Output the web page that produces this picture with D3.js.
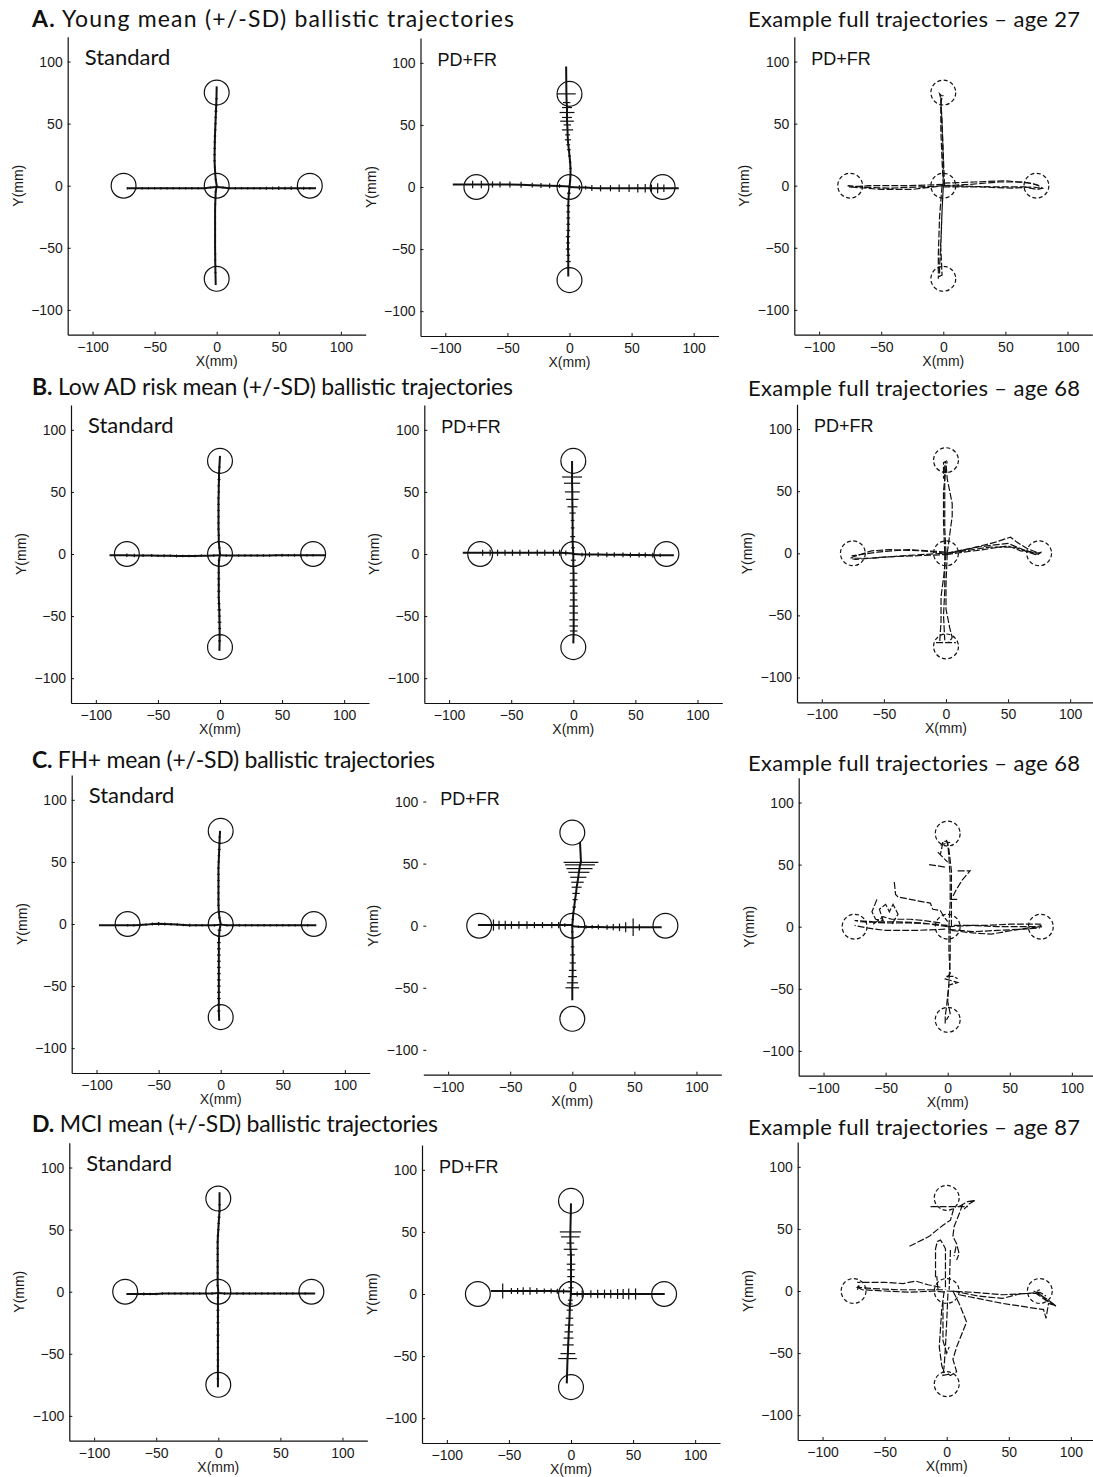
<!DOCTYPE html>
<html>
<head>
<meta charset="utf-8">
<script src="https://cdn.jsdelivr.net/npm/d3@7"></script>
<style>
  body { margin: 0; background: #fff; }
  svg { display: block; }
</style>
</head>
<body>
<div id="fig"></div>
<script>
// ---------- data (all in mm) ----------
var targets = [[0, 0], [75, 0], [-75, 0], [0, 75], [0, -75]];
var targetRadius = 10;
var tickValues = [-100, -50, 0, 50, 100];

var rowTitles = [
  ["A.", " Young mean (+/-SD) ballistic trajectories"],
  ["B.", " Low AD risk mean (+/-SD) ballistic trajectories"],
  ["C.", " FH+ mean (+/-SD) ballistic trajectories"],
  ["D.", " MCI mean (+/-SD) ballistic trajectories"]
];
var exampleTitles = [
  "Example full trajectories \u2013 age 27",
  "Example full trajectories \u2013 age 68",
  "Example full trajectories \u2013 age 68",
  "Example full trajectories \u2013 age 87"
];

// mean trajectories: [x, y, sd]  (sd across the direction of movement)
var youngStdUp = [[0,0,0.5],[-0.8,5,0.8],[-1.2,10,0.8],[-1.5,15,0.8],[-1.7,20,1],[-1.7,25,1],[-1.6,30,1],[-1.5,35,1],[-1.4,40,1],[-1.2,45,1],[-1,50,1],[-0.8,55,1],[-0.6,60,1.2],[-0.4,65,1.2],[-0.2,70,1],[0,80,0]];
var youngStdDown = [[0,0,0.5],[-0.8,-5,0.8],[-1,-10,0.8],[-1.2,-15,0.8],[-1.3,-20,0.8],[-1.3,-25,0.8],[-1.3,-30,0.8],[-1.3,-35,0.8],[-1.3,-40,0.8],[-1.3,-45,0.8],[-1.3,-50,0.8],[-1.2,-55,0.8],[-1.2,-60,0.8],[-1.1,-65,0.8],[-1,-70,0.8],[-0.8,-80,0]];
var youngStdLeft = [[0,-1,0.5],[-5,-1.5,0.8],[-10,-2,1],[-15,-2,1],[-20,-2,1],[-25,-2,1],[-30,-2,1],[-35,-2,1],[-40,-2,1],[-45,-2,1],[-50,-2,1],[-55,-2,1],[-60,-2,1],[-65,-2,1],[-72,-2,1]];
var youngStdRight = [[0,-1,0.5],[5,-1.5,0.8],[10,-2,1],[15,-2,1],[20,-2,1],[25,-2,1],[30,-2,1],[35,-2,1],[40,-2,1.2],[45,-2,1.2],[50,-2,1.5],[55,-2,1.2],[60,-2,1.5],[65,-2,1.5],[70,-2,1.2],[75,-2,1],[80,-2,0]];

var youngPdUp = [[0,0,0.8],[0.5,5,0.8],[0.8,10,0.8],[0.8,15,1],[0.5,20,1],[0,25,1.2],[-0.5,30,1.5],[-1,34,1.5],[-1.3,38,2.5],[-1.5,42,2],[-1.6,46,4.5],[-1.8,50,3],[-2,53,5.5],[-2,56,4],[-2,60,6],[-2,64,4],[-2.3,68,3],[-2.5,75,7.5],[-2.7,97,0]];
var youngPdDown = [[0,0,1],[-0.5,-5,1.5],[-0.8,-10,1.5],[-1,-15,1.5],[-1,-20,1.5],[-1,-25,1.5],[-1,-30,1.5],[-1,-35,1.5],[-1.2,-40,1.8],[-1.2,-45,1.5],[-1.2,-50,1.8],[-1,-55,1.5],[-1,-60,2],[-1,-65,1.5],[-1,-72,0]];
var youngPdLeft = [[0,0.5,1],[-8,0.8,1.5],[-16,1,2],[-23,1.2,2],[-30,1.5,2],[-39,1.8,2.5],[-48,2,2.5],[-56,2,2.5],[-62,2,2.5],[-71,2,3],[-78,2,3],[-94,2,0]];
var youngPdRight = [[0,0,1],[8,-0.5,2],[13,-0.5,1.5],[18,-0.8,2.5],[25,-1,2.5],[33,-1,2.5],[40,-1,3],[48,-1,3],[55,-1,3.5],[61,-1,3.5],[66,-1,3],[71,-1,4],[76,-1,3],[88,-1,0]];

var lowStdUp = [[0,0,0.5],[-0.5,5,1],[-1,10,1],[-1,15,1],[-1.2,20,1],[-1.2,25,1],[-1.2,30,1],[-1.2,35,1],[-1.2,40,1],[-1.2,45,1],[-1,50,1],[-1,55,1],[-0.8,60,1.2],[-0.8,65,1.2],[-0.5,70,1],[0,79,0]];
var lowStdDown = [[0,0,0.5],[-0.8,-5,1],[-1,-10,1],[-1,-15,1],[-1,-20,1.2],[-1,-25,1],[-1,-30,1.2],[-1,-35,1],[-0.8,-40,1.2],[-0.6,-45,1.5],[-0.5,-50,1.2],[-0.4,-55,1.5],[-0.3,-60,1.2],[-0.3,-65,1.5],[-0.3,-70,1.2],[-0.5,-78,0]];
var lowStdLeft = [[0,-1,0.5],[-5,-1.3,1],[-10,-1.5,1],[-15,-1.5,1],[-20,-1.6,1],[-25,-1.6,1],[-30,-1.6,1],[-35,-1.6,1.2],[-40,-1.5,1],[-45,-1.5,1.2],[-50,-1.4,1],[-55,-1.3,1.2],[-62,-1.2,1.2],[-69,-1.2,1.5],[-75,-1,1.5],[-89,-1,0]];
var lowStdRight = [[0,-1,0.5],[5,-1.2,1],[10,-1.3,1],[15,-1.3,1],[20,-1.3,1],[25,-1.3,1],[30,-1.2,1],[35,-1.2,1],[40,-1.2,1],[45,-1.1,1],[50,-1,1.2],[55,-1,1],[60,-1,1.2],[65,-1,1.2],[70,-1,1],[75,-1,1],[85,-1,0]];

var lowPdUp = [[0,0,1],[-0.3,5,1.5],[-0.5,10,1.5],[-0.5,14,2],[-0.5,21,1.5],[-0.6,27,1.5],[-0.6,33,2.5],[-0.7,38,4],[-0.8,44,5],[-0.8,50,6],[-1,57,6.5],[-1,62,8],[-1,75,0]];
var lowPdDown = [[0,0,1],[0,-5,2],[0,-10,2.5],[0.2,-15.5,3],[0.2,-21,3],[0.2,-26,3],[0.3,-31.5,3],[0.3,-37,3],[0.3,-42,3.5],[0.3,-47.5,3.5],[0.3,-53,3.5],[0.3,-58,3.5],[0.3,-62,3],[0,-72,0]];
var lowPdLeft = [[0,0.5,1],[-6,0.8,2],[-11,1,2.5],[-16,1,2.5],[-23,1,2.5],[-29,1,2.5],[-36,1,2.5],[-43,1,2.5],[-49,1,2.5],[-55,1,2.5],[-61,1,2.5],[-67,1,2.5],[-73,1,2.5],[-89,1,0]];
var lowPdRight = [[0,0,1],[7,-0.5,1.5],[13,-0.5,2],[20,-0.5,2],[27,-0.6,2],[33,-0.6,2],[40,-0.7,2],[46,-0.8,2],[53,-0.8,2],[58,-0.8,2],[64,-1,2],[70,-1,1.5],[81,-1,0]];

var fhStdUp = [[0,0,0.5],[-1,5,1],[-1.5,10,1],[-1.8,15,1],[-1.8,20,1],[-1.8,25,1],[-1.8,30,1],[-1.8,35,1],[-1.8,40,1],[-1.8,45,1],[-1.6,50,1],[-1.4,55,1],[-1.2,60,1.2],[-1,65,1.2],[-0.8,70,1],[-0.5,75,0]];
var fhStdDown = [[0,0,0.5],[-1,-5,1.5],[-1.3,-10,1.5],[-1.5,-15,1.5],[-1.5,-20,1.5],[-1.5,-25,1.5],[-1.5,-30,1.5],[-1.5,-35,1.5],[-1.5,-40,1.5],[-1.5,-45,1.5],[-1.5,-50,1.5],[-1.5,-55,1.5],[-1.5,-60,1.5],[-1.5,-65,1.5],[-1.5,-70,1.2],[-1.2,-78,0]];
var fhStdLeft = [[0,-0.5,0.5],[-5,-1,1],[-10,-1,1],[-15,-1,1],[-20,-1,1],[-25,-1,1.2],[-30,-0.8,1],[-35,-0.5,1.2],[-40,-0.2,1],[-45,0,1.2],[-50,0.2,1.5],[-55,0,1.2],[-60,-0.5,1],[-65,-0.8,1.2],[-70,-1,1],[-75,-1,1],[-98,-1,0]];
var fhStdRight = [[0,-0.5,0.5],[5,-1,1],[10,-1,1],[15,-1,1],[20,-1,1],[25,-1,1],[30,-1,1],[35,-1,1],[40,-1,1],[45,-1,1],[50,-1,1],[55,-1,1],[60,-1,1],[65,-1,1],[70,-1,1],[77,-1,0]];

var fhPdUp = [[0,0,1],[0.4,5,1],[0.8,10,1.2],[1.5,15,1.5],[2.2,21,2],[3,26,3],[3.5,31,4],[4.2,35,5],[4.8,39,6.5],[5.3,43,8.5],[5.8,46,10.5],[6.2,49,12],[7,51,14],[6.2,67.5,0]];
var fhPdDown = [[0,0,1],[0,-5,1],[0.2,-10,1.5],[0.2,-17,1.5],[0.3,-23.5,2],[0.3,-30,2.5],[0.3,-36,3],[0.2,-41,3.5],[0.1,-46,4.5],[0,-50,5.5],[0,-60,0]];
var fhPdLeft = [[0,0.5,1],[-6,0.5,1.5],[-11,0.5,2.5],[-16.5,0.5,2.5],[-24,0.5,2.5],[-30.5,0.5,2.5],[-36.5,0.5,3],[-43,0.5,3],[-49,0.5,3],[-54,0.5,3.5],[-59,0.5,3.5],[-63.5,0.5,4.5],[-76,0.5,0]];
var fhPdRight = [[0,-0.5,1],[5,-0.8,1],[11,-1,1.5],[16,-1,1.5],[21,-1,2],[28,-1.2,2],[33,-1.2,2.5],[38,-1.3,3],[43,-1.3,4],[49,-1.3,7],[54,-1.3,2.5],[72,-1.3,0]];

var mciStdUp = [[0,0,0.5],[-0.5,5,1],[-0.5,10,1],[-0.5,15,1],[-0.5,20,1],[-0.5,25,1],[-0.5,30,1],[-0.5,35,1],[-0.5,40,1],[-0.3,45,1],[0,50,1],[0.3,55,1],[0.6,60,1.2],[1,65,1.2],[1,70,1],[1,80,0]];
var mciStdDown = [[0,0,0.5],[-0.3,-5,1],[-0.3,-10,1],[-0.3,-15,1.2],[-0.3,-20,1],[-0.3,-25,1.2],[-0.3,-30,1],[-0.3,-35,1.2],[-0.3,-40,1],[-0.3,-45,1],[-0.3,-50,1],[-0.3,-55,1],[-0.3,-60,1],[-0.3,-65,1],[-0.3,-70,1],[-0.3,-77,0]];
var mciStdLeft = [[0,-1,0.5],[-5,-1.5,1],[-10,-1.5,1],[-15,-1.5,1],[-20,-1.5,1],[-25,-1.5,1],[-30,-1.5,1],[-35,-1.5,1],[-40,-1.5,1],[-45,-1.5,1],[-50,-1.8,1],[-55,-1.8,1],[-60,-1.8,1.2],[-65,-1.8,1.2],[-74,-1.8,0]];
var mciStdRight = [[0,-1,0.5],[5,-1.5,1],[10,-1.5,1],[15,-1.5,1],[20,-1.5,1.2],[25,-1.5,1],[30,-1.5,1],[35,-1.5,1],[40,-1.5,1],[45,-1.5,1],[50,-1.5,1],[55,-1.5,1],[60,-1.5,1],[65,-1.5,1],[70,-1.5,1],[78,-1.5,0]];

var mciPdUp = [[0,0,1],[0,5,2],[0,10,2.5],[0,14,3],[0,19.5,3],[0,24,3.5],[0,31.5,3],[-0.3,36,5.5],[-0.5,41,3],[-0.5,46,7.5],[-0.5,50,8.5],[0,73,0]];
var mciPdDown = [[0,0,1],[-0.5,-5,2],[-0.8,-8,2],[-1,-13,2.5],[-1.2,-19.5,3],[-1.5,-25,3.5],[-1.8,-30.5,3.5],[-2,-35.5,4],[-2.3,-41,4.5],[-2.5,-48,6],[-2.8,-52,7.5],[-3.4,-72,0]];
var mciPdLeft = [[0,2,1],[-6,2.2,2],[-11,2.3,2],[-16,2.4,2],[-21.5,2.4,2],[-27.5,2.4,2.5],[-33,2.4,3],[-38.5,2.4,3],[-43,2.4,2.5],[-48,2.4,2.5],[-55,2.4,6],[-64.5,2.4,0]];
var mciPdRight = [[0,0,1],[5,0,2],[9,0,3],[16,0,3],[21.5,0,3.5],[27,0,3.5],[32,0,3.5],[37.5,0,4],[42,0,4],[46.5,0,4.5],[52,0,4.5],[75.5,0,0]];

// example full trajectories: polylines of [x, y]
var youngFull = [
  [[0,0],[-1,20],[-2,45],[-2,65],[-1,72],[-3,74],[-2,70],[-1,50],[0,20],[0,0]],
  [[1,0],[0,25],[-1,50],[-2,70],[0,73]],
  [[0,0],[-1,-20],[-2,-45],[-3,-65],[-3,-73],[-1,-72],[-2,-50],[-1,-20],[0,0]],
  [[-1,0],[-3,-25],[-4,-55],[-4,-75]],
  [[0,0],[-20,-1],[-45,-2],[-65,-1],[-77,0],[-75,-1],[-50,-3],[-25,-3],[0,0]],
  [[0,1],[-30,0],[-60,0],[-76,-1]],
  [[0,0],[20,1],[45,3],[65,3],[75,1],[80,-2],[76,-3],[65,-1],[40,-1],[0,0]],
  [[0,2],[25,3],[50,4],[70,2],[77,0]],
  [[0,-1],[30,-1],[55,-2],[72,-1],[78,-2]]
];
var lowFull = [
  [[0,0],[-1,20],[-1,45],[-1,65],[-1,72],[0,74],[-2,73],[-2,60]],
  [[1,0],[3,15],[5,30],[5,40],[3,50],[1,60],[0,72]],
  [[-1,0],[-2,25],[-2,50],[0,70],[1,74]],
  [[0,0],[-2,-20],[-4,-35],[-4,-55],[-5,-70],[-3,-72]],
  [[1,0],[0,-25],[0,-45],[3,-60],[5,-68],[2,-72]],
  [[-8,-72],[8,-72]],
  [[-1,0],[-1,-30],[-2,-50],[-1,-70]],
  [[0,0],[-20,2],[-45,3],[-60,2],[-75,-3],[-77,-4],[-73,-5],[-50,-3],[-25,-2],[0,-1]],
  [[0,1],[-30,3],[-55,1],[-76,-2]],
  [[-3,0],[-35,-2],[-60,-4],[-74,-4]],
  [[0,0],[20,4],[40,9],[52,13],[57,9],[65,4],[75,0],[77,1],[72,-1],[55,5],[35,5],[15,2],[0,0]],
  [[2,0],[25,5],[50,8],[62,3],[75,-1]],
  [[0,-1],[30,3],[50,6],[60,2],[76,0]]
];
var fhFull = [
  [[1,0],[2,20],[2,40],[1,55],[0,68],[-3,69],[-5,66],[2,68]],
  [[3,0],[3,22],[3,45],[1,62],[-1,70]],
  [[-15,50],[-8,49],[-2,48]],
  [[8,45],[18,45],[12,38],[7,30],[4,24]],
  [[2,22],[8,22]],
  [[-8,60],[-3,55],[0,52]],
  [[-4,68],[-5,62],[-6,58]],
  [[1,0],[1,-20],[2,-38],[-2,-42],[5,-44],[8,-45],[1,-47],[0,-55],[-1,-65],[-2,-72],[-2,-78]],
  [[2,0],[2,-25],[1,-45],[0,-60],[2,-70],[-1,-75]],
  [[-1,-40],[5,-40],[8,-42]],
  [[0,0],[-20,3],[-40,4],[-60,4],[-75,5],[-70,4],[-50,3],[-30,3],[-10,2],[0,1]],
  [[-2,-2],[-25,-3],[-50,-3],[-65,-1],[-75,1]],
  [[-57,22],[-61,12],[-58,6],[-52,5],[-55,14],[-50,18],[-47,12],[-44,18],[-40,10],[-45,2]],
  [[-43,36],[-42,26],[-40,24],[-25,21],[-14,19],[-12,14],[-6,13],[-3,8],[0,4]],
  [[-60,2],[-52,8],[-45,6],[-38,6],[-30,6],[-20,5],[-5,3]],
  [[0,0],[20,1],[40,0],[60,0],[72,0],[75,1],[74,-1],[60,-2],[40,-3],[20,-4],[0,-2]],
  [[3,-3],[20,-5],[35,-6],[52,-3],[65,-1],[76,0]],
  [[5,1],[30,1],[50,2],[75,2]]
];
var mciFull = [
  [[-13,68],[17,68]],
  [[10,68],[17,72],[23,73],[18,70],[14,66]],
  [[-30,36],[-14,44],[-8,49],[-3,53],[3,57],[5,64],[6,68]],
  [[13,70],[10,62],[6,52],[5,44],[8,38],[10,30],[8,25]],
  [[-9,11],[-9,34],[-7.5,40],[-5,41],[-3,38],[-1,34],[-1,1]],
  [[-7,1],[-8,12]],
  [[3,33],[2,1]],
  [[7.5,36],[6,28]],
  [[-2,0],[-4,-15],[-5,-30],[-6,-45],[-4,-60],[-2,-66]],
  [[5,0],[10,-10],[14,-20],[16,-25],[12,-35],[8,-45],[5,-55],[8,-65],[3,-68],[0,-66]],
  [[1,-2],[0,-25],[-1,-45],[-2,-60],[-3,-68],[2,-67]],
  [[-3,-10],[-3,-40],[0,-50],[2,-45]],
  [[-3,1],[-20,1],[-40,1],[-60,2],[-72,3],[-70,5],[-72,1]],
  [[-5,3],[-15,5],[-25,8],[-35,6],[-50,7],[-72,7]],
  [[-72,3],[-68,1],[-50,0],[-30,-1],[-10,0],[0,-1]],
  [[0,0],[20,-1],[45,-3],[65,-2],[75,-1],[80,-4]],
  [[10,-3],[25,-6],[45,-10],[65,-13],[78,-15],[80,-22],[82,-10],[88,-12],[80,-7],[72,0],[75,1]],
  [[5,0],[25,-4],[45,-6],[60,-2],[72,-2]],
  [[70,0],[80,-6],[88,-12],[82,-9],[72,-2]]
];

// ---------- layout ----------
var W = 1093, H = 1477;
var half = 149; // pixels for 120 mm
// pixel position of the (0,0) origin of each panel
var centers = [
  [[216.7, 185.7], [569.5, 187], [943.3, 185.7]],
  [[220, 554], [573.3, 554], [946, 553.3]],
  [[220.7, 924], [572.3, 925.7], [947.7, 926.7]],
  [[218.3, 1291.7], [571, 1294], [946.7, 1291]]
];
var titleBase = [27, 395, 768, 1132];
var exampleBase = [27, 396, 771, 1135];
var titleWidth = [482, 481, 403, 406];

var fontCal = "Lato, 'Open Sans', sans-serif";
var fontMat = "'Liberation Sans', Arial, Helvetica, sans-serif";
var ink = "#111";

var rows = [
  { std: [youngStdUp, youngStdDown, youngStdLeft, youngStdRight], pd: [youngPdUp, youngPdDown, youngPdLeft, youngPdRight], full: youngFull, fullLabel: "PD+FR", pdAxis: true },
  { std: [lowStdUp, lowStdDown, lowStdLeft, lowStdRight], pd: [lowPdUp, lowPdDown, lowPdLeft, lowPdRight], full: lowFull, fullLabel: "PD+FR", pdAxis: true },
  { std: [fhStdUp, fhStdDown, fhStdLeft, fhStdRight], pd: [fhPdUp, fhPdDown, fhPdLeft, fhPdRight], full: fhFull, fullLabel: null, pdAxis: false },
  { std: [mciStdUp, mciStdDown, mciStdLeft, mciStdRight], pd: [mciPdUp, mciPdDown, mciPdLeft, mciPdRight], full: mciFull, fullLabel: null, pdAxis: true }
];

var svg = d3.select("#fig").append("svg")
  .attr("width", W).attr("height", H)
  .style("background", "#fff");

function makePanel(c, opts) {
  var cx = c[0], cy = c[1];
  var x = d3.scaleLinear().domain([-120, 120]).range([cx - half, cx + half]);
  var y = d3.scaleLinear().domain([-120, 120]).range([cy + half, cy - half]);
  var g = svg.append("g");

  // axes (MATLAB style: ticks inside, left + bottom only)
  var gx = g.append("g")
    .attr("transform", "translate(0," + (cy + half) + ")")
    .call(d3.axisBottom(x).tickValues(tickValues).tickSizeInner(-3).tickSizeOuter(0).tickPadding(7));
  var gy = g.append("g")
    .attr("transform", "translate(" + (cx - half) + ",0)")
    .call(d3.axisLeft(y).tickValues(tickValues).tickSizeInner(-3).tickSizeOuter(0).tickPadding(5));
  if (!opts.yAxisLine) gy.select(".domain").remove();
  [gx, gy].forEach(function (a) {
    a.selectAll(".domain").attr("stroke", ink).attr("stroke-width", 1.2);
    a.selectAll(".tick line").attr("stroke", ink);
    a.selectAll("text").attr("font-family", fontMat).attr("font-size", 14).attr("fill", "#1a1a1a");
  });

  g.append("text")
    .attr("x", cx).attr("y", cy + half + 31)
    .attr("text-anchor", "middle")
    .attr("font-family", fontMat).attr("font-size", 14).attr("fill", "#1a1a1a")
    .text("X(mm)");
  g.append("text")
    .attr("transform", "translate(" + (cx - half - 45) + "," + cy + ") rotate(-90)")
    .attr("text-anchor", "middle")
    .attr("font-family", fontMat).attr("font-size", 14).attr("fill", "#1a1a1a")
    .text("Y(mm)");

  if (opts.label) {
    g.append("text")
      .attr("x", cx - half + 17).attr("y", cy - half + 28)
      .attr("font-family", opts.label === "Standard" ? fontCal : fontMat)
      .attr("font-size", opts.label === "Standard" ? 22 : 18)
      .attr("fill", ink)
      .text(opts.label);
  }

  // targets
  g.selectAll("circle.target")
    .data(targets)
    .enter().append("circle")
    .attr("class", "target")
    .attr("cx", function (d) { return x(d[0]); })
    .attr("cy", function (d) { return y(d[1]); })
    .attr("r", x(targetRadius) - x(0))
    .attr("fill", "none")
    .attr("stroke", ink)
    .attr("stroke-width", 1.2)
    .attr("stroke-dasharray", opts.dashed ? "4,2.5" : null);

  return { g: g, x: x, y: y };
}

function drawMean(p, trajs) {
  var line = d3.line().x(function (d) { return p.x(d[0]); }).y(function (d) { return p.y(d[1]); });
  trajs.forEach(function (t, k) {
    var vertical = k < 2; // up / down movements get horizontal bars
    p.g.append("path")
      .datum(t)
      .attr("d", line)
      .attr("fill", "none")
      .attr("stroke", ink)
      .attr("stroke-width", 2);
    p.g.selectAll(null)
      .data(t.filter(function (d) { return d[2] > 0; }))
      .enter().append("line")
      .attr("x1", function (d) { return vertical ? p.x(d[0] - d[2]) : p.x(d[0]); })
      .attr("x2", function (d) { return vertical ? p.x(d[0] + d[2]) : p.x(d[0]); })
      .attr("y1", function (d) { return vertical ? p.y(d[1]) : p.y(d[1] - d[2]); })
      .attr("y2", function (d) { return vertical ? p.y(d[1]) : p.y(d[1] + d[2]); })
      .attr("stroke", ink)
      .attr("stroke-width", 1.2);
  });
}

function drawFull(p, paths) {
  var line = d3.line().x(function (d) { return p.x(d[0]); }).y(function (d) { return p.y(d[1]); });
  p.g.selectAll("path.traj")
    .data(paths)
    .enter().append("path")
    .attr("class", "traj")
    .attr("d", line)
    .attr("fill", "none")
    .attr("stroke", ink)
    .attr("stroke-width", 1.2)
    .attr("stroke-dasharray", "7,2");
}

rows.forEach(function (r, i) {
  var c = centers[i];
  var p1 = makePanel(c[0], { label: "Standard", yAxisLine: true, dashed: false });
  drawMean(p1, r.std);
  var p2 = makePanel(c[1], { label: "PD+FR", yAxisLine: r.pdAxis, dashed: false });
  drawMean(p2, r.pd);
  var p3 = makePanel(c[2], { label: r.fullLabel, yAxisLine: true, dashed: true });
  drawFull(p3, r.full);

  var t = svg.append("text")
    .attr("x", 32).attr("y", titleBase[i])
    .attr("font-family", fontCal).attr("font-size", 23).attr("fill", ink)
    .attr("textLength", titleWidth[i]).attr("lengthAdjust", "spacing");
  t.append("tspan").attr("font-weight", 700).text(rowTitles[i][0]);
  t.append("tspan").text(rowTitles[i][1]);

  svg.append("text")
    .attr("x", 748).attr("y", exampleBase[i])
    .attr("font-family", fontCal).attr("font-size", 22).attr("fill", ink)
    .attr("textLength", 332).attr("lengthAdjust", "spacing")
    .text(exampleTitles[i]);
});
</script>
</body>
</html>
